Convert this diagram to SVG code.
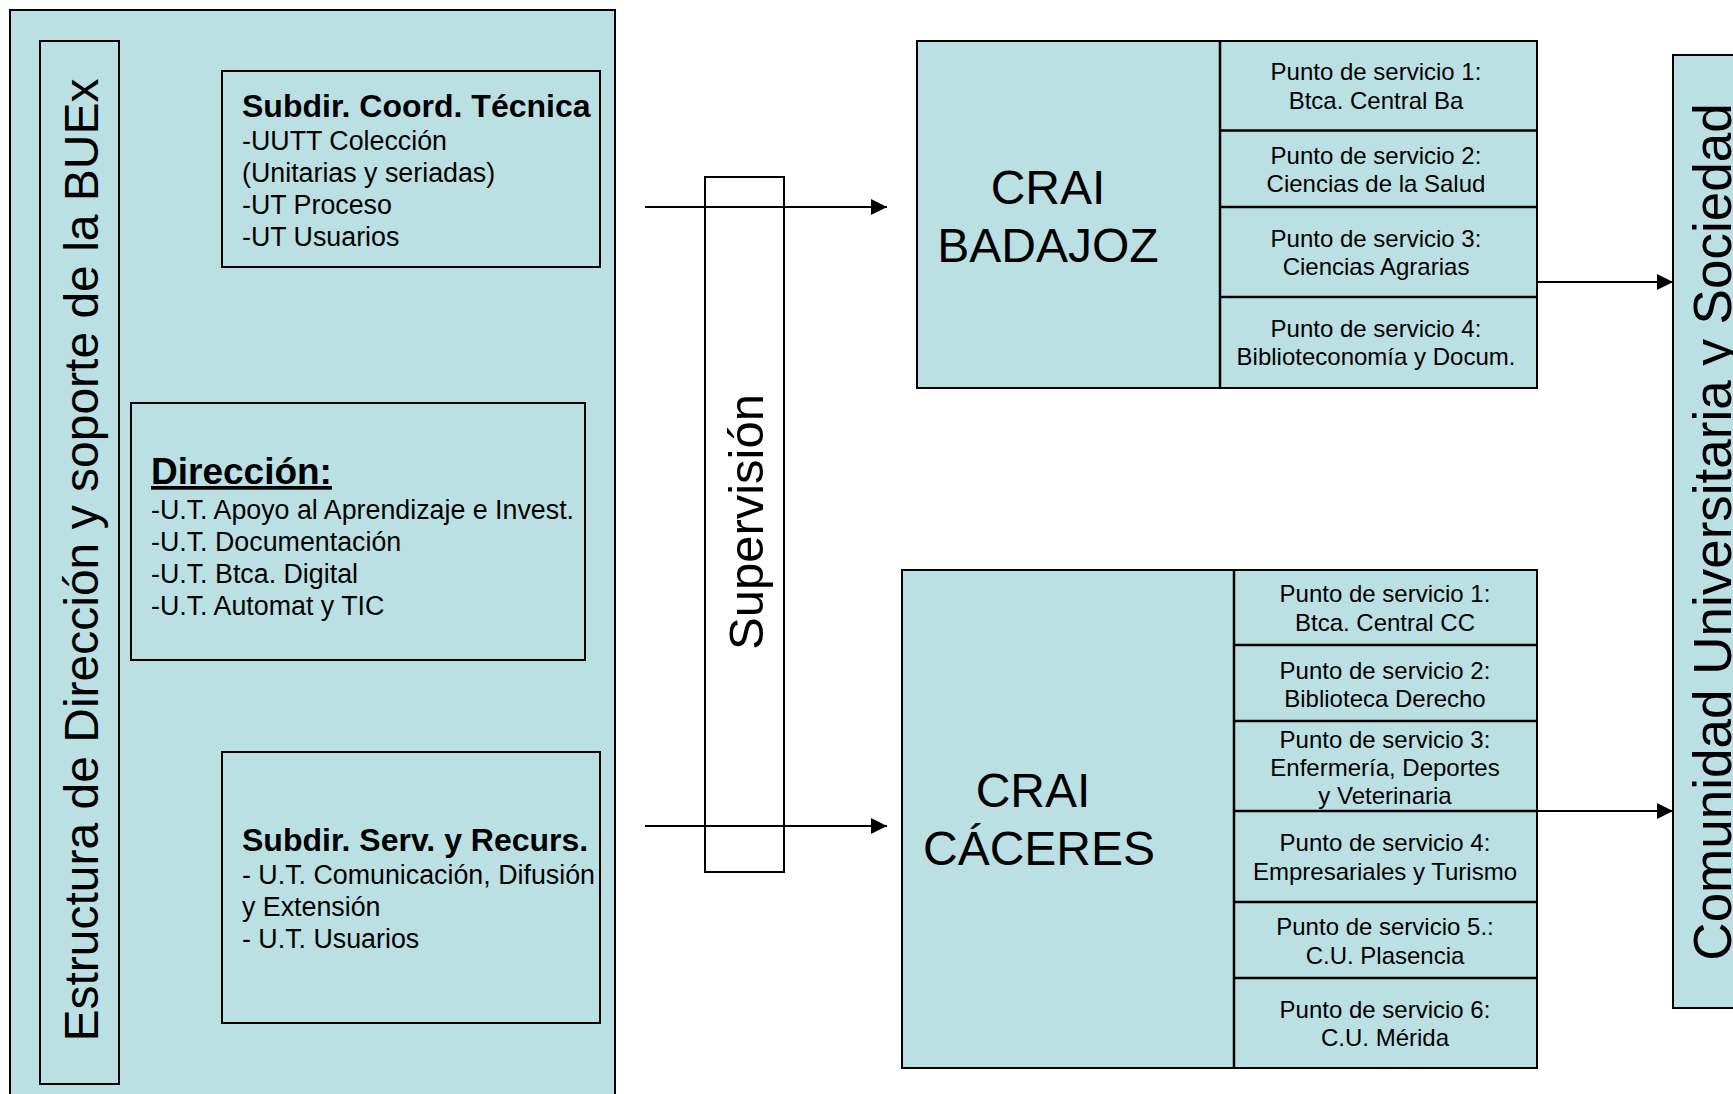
<svg xmlns="http://www.w3.org/2000/svg" width="1733" height="1094" viewBox="0 0 1733 1094">
<defs>
<style>
.box{fill:#BBE0E3;stroke:#000;stroke-width:2}
.wbox{fill:#fff;stroke:#000;stroke-width:2}
.div{stroke:#000;stroke-width:2.5;fill:none}
.t{font-family:"Liberation Sans",Arial,sans-serif;fill:#000}
.body{font-size:26.8px}
.bold{font-weight:bold;font-size:32px}
.cell{font-size:24px;text-anchor:middle}
.big{font-size:48px;text-anchor:middle}
.conn{stroke:#000;stroke-width:2.2;fill:none}
</style>
<marker id="arr" markerWidth="16" markerHeight="16" viewBox="0 0 16 16" refX="16" refY="8" orient="auto" markerUnits="userSpaceOnUse">
<path d="M0,0 L16,8 L0,16 Z" fill="#000"/>
</marker>
</defs>
<rect width="1733" height="1094" fill="#fff"/>

<g id="estructura">
<rect class="box" x="10" y="10" width="605" height="1100"/>
<rect class="box" x="40" y="41" width="79" height="1043"/>
<text class="t" x="98" y="560" font-size="48" text-anchor="middle" transform="rotate(-90 98 560)">Estructura de Dirección y soporte de la BUEx</text>
</g>

<g id="subdir-coord">
<rect class="box" x="222" y="71" width="378" height="196"/>
<text class="t bold" x="242" y="117">Subdir. Coord. Técnica</text>
<text class="t body" x="242" y="150">-UUTT Colección</text>
<text class="t body" x="242" y="182">(Unitarias y seriadas)</text>
<text class="t body" x="242" y="214">-UT Proceso</text>
<text class="t body" x="242" y="246">-UT Usuarios</text>
</g>

<g id="direccion">
<rect class="box" x="131" y="403" width="454" height="257"/>
<text class="t" x="151" y="484" font-size="37" font-weight="bold" text-decoration="underline">Dirección:</text>
<text class="t body" x="151" y="519">-U.T. Apoyo al Aprendizaje e Invest.</text>
<text class="t body" x="151" y="551">-U.T. Documentación</text>
<text class="t body" x="151" y="583">-U.T. Btca. Digital</text>
<text class="t body" x="151" y="615">-U.T. Automat y TIC</text>
</g>

<g id="subdir-serv">
<rect class="box" x="222" y="752" width="378" height="271"/>
<text class="t bold" x="242" y="851">Subdir. Serv. y Recurs.</text>
<text class="t body" x="242" y="884">- U.T. Comunicación, Difusión</text>
<text class="t body" x="242" y="916">y Extensión</text>
<text class="t body" x="242" y="948">- U.T. Usuarios</text>
</g>

<g id="supervision">
<rect class="wbox" x="705" y="177" width="79" height="695"/>
<text class="t" x="763" y="522" font-size="49" text-anchor="middle" transform="rotate(-90 763 522)">Supervisión</text>
</g>

<g id="connectors">
<line class="conn" x1="645" y1="207" x2="887" y2="207" marker-end="url(#arr)"/>
<line class="conn" x1="645" y1="826" x2="887" y2="826" marker-end="url(#arr)"/>
<line class="conn" x1="1537" y1="282" x2="1673" y2="282" marker-end="url(#arr)"/>
<line class="conn" x1="1537" y1="811" x2="1673" y2="811" marker-end="url(#arr)"/>
</g>

<g id="crai-badajoz">
<rect class="box" x="917" y="41" width="620" height="347"/>
<line class="div" x1="1220" y1="41" x2="1220" y2="388"/>
<line class="div" x1="1220" y1="130.5" x2="1537" y2="130.5"/>
<line class="div" x1="1220" y1="207" x2="1537" y2="207"/>
<line class="div" x1="1220" y1="297" x2="1537" y2="297"/>
<text class="t big" x="1048" y="204">CRAI</text>
<text class="t big" x="1048" y="262">BADAJOZ</text>
<text class="t cell" x="1376" y="80">Punto de servicio 1:</text>
<text class="t cell" x="1376" y="108.5">Btca. Central Ba</text>
<text class="t cell" x="1376" y="163.5">Punto de servicio 2:</text>
<text class="t cell" x="1376" y="191.5">Ciencias de la Salud</text>
<text class="t cell" x="1376" y="246.5">Punto de servicio 3:</text>
<text class="t cell" x="1376" y="275">Ciencias Agrarias</text>
<text class="t cell" x="1376" y="336.5">Punto de servicio 4:</text>
<text class="t cell" x="1376" y="365">Biblioteconomía y Docum.</text>
</g>

<g id="crai-caceres">
<rect class="box" x="902" y="570" width="635" height="498"/>
<line class="div" x1="1234" y1="570" x2="1234" y2="1068"/>
<line class="div" x1="1234" y1="645" x2="1537" y2="645"/>
<line class="div" x1="1234" y1="721" x2="1537" y2="721"/>
<line class="div" x1="1234" y1="811" x2="1537" y2="811"/>
<line class="div" x1="1234" y1="902" x2="1537" y2="902"/>
<line class="div" x1="1234" y1="978" x2="1537" y2="978"/>
<text class="t big" x="1033" y="807">CRAI</text>
<text class="t big" x="1039" y="865">CÁCERES</text>
<text class="t cell" x="1385" y="602">Punto de servicio 1:</text>
<text class="t cell" x="1385" y="631">Btca. Central CC</text>
<text class="t cell" x="1385" y="678.5">Punto de servicio 2:</text>
<text class="t cell" x="1385" y="706.5">Biblioteca Derecho</text>
<text class="t cell" x="1385" y="747.5">Punto de servicio 3:</text>
<text class="t cell" x="1385" y="775.5">Enfermería, Deportes</text>
<text class="t cell" x="1385" y="803.5">y Veterinaria</text>
<text class="t cell" x="1385" y="851">Punto de servicio 4:</text>
<text class="t cell" x="1385" y="880">Empresariales y Turismo</text>
<text class="t cell" x="1385" y="935">Punto de servicio 5.:</text>
<text class="t cell" x="1385" y="963.5">C.U. Plasencia</text>
<text class="t cell" x="1385" y="1018">Punto de servicio 6:</text>
<text class="t cell" x="1385" y="1046">C.U. Mérida</text>
</g>

<g id="comunidad">
<rect class="box" x="1673" y="55" width="80" height="953"/>
<text class="t" x="1731" y="532" font-size="53" text-anchor="middle" transform="rotate(-90 1731 532)">Comunidad Universitaria y Sociedad</text>
</g>
</svg>
